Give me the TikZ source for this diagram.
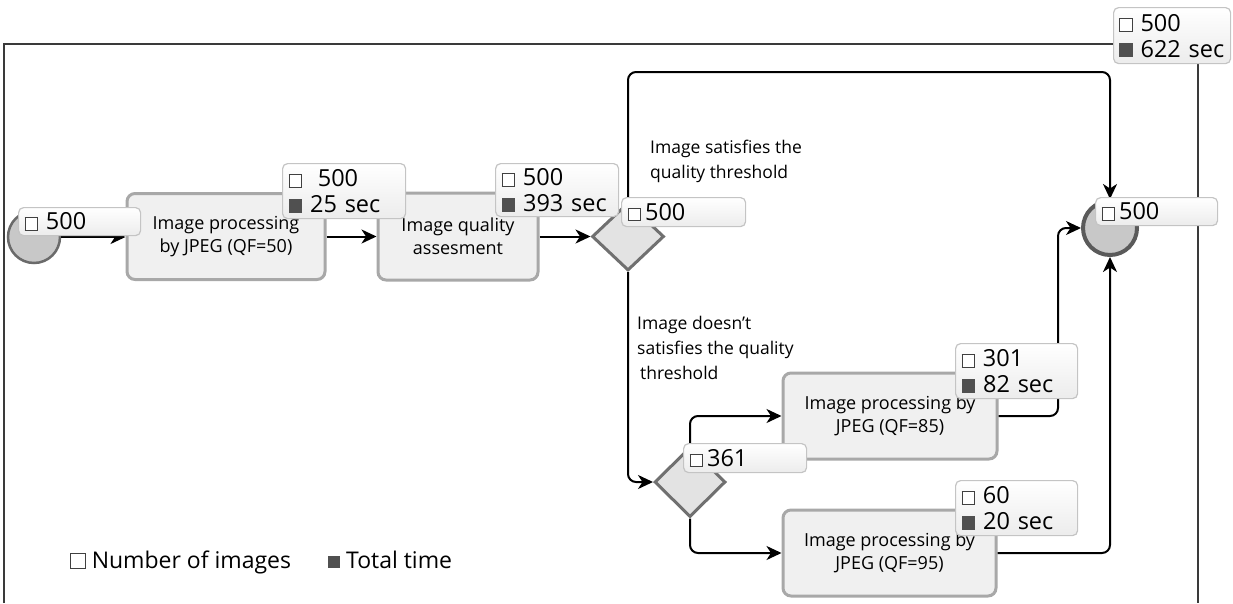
\documentclass[tikz,border=0pt]{standalone}
\usepackage{fontspec}
\setmainfont{Open Sans}
\usetikzlibrary{arrows.meta,shapes.geometric}
\definecolor{boxfill}{HTML}{F0F0F0}
\definecolor{boxline}{HTML}{A8A8A8}
\definecolor{diafill}{HTML}{E3E3E3}
\definecolor{dialine}{HTML}{707070}
\definecolor{circfill}{HTML}{C8C8C8}
\definecolor{circline}{HTML}{6A6A6A}
\definecolor{lblline}{HTML}{C4C4C4}
\definecolor{lblbot}{HTML}{ECECEC}
\definecolor{sqline}{HTML}{404040}
\definecolor{sqfill}{HTML}{505050}
\definecolor{framecol}{HTML}{3A3A3A}
\newcommand\wsq[1][0.5em]{{\setlength\fboxsep{0pt}\setlength\fboxrule{0.9pt}\textcolor{sqline}{\fbox{\textcolor{white}{\rule{#1}{#1}}}}}}
\newcommand\bsq[1][0.58em]{\textcolor{sqfill}{\rule{#1}{#1}}}
\tikzset{
 conn/.style={line width=2pt, draw=black, rounded corners=8pt},
 arr/.style={conn, -{Stealth[length=15pt,width=14pt,inset=4.5pt]}},
 proc/.style={draw=boxline, fill=boxfill, line width=3pt, rounded corners=8pt, align=center, font=\fontsize{18}{23}\selectfont, inner sep=0pt},
 gate/.style={diamond, draw=dialine, fill=diafill, line width=3pt, inner sep=0pt},
 ev/.style={circle, draw=circline, fill=circfill, inner sep=0pt},
 cnt/.style={draw=lblline, line width=1.2pt, rounded corners=5pt, top color=white, bottom color=lblbot, anchor=north west, align=left, inner xsep=6pt, inner ysep=0pt, font=\fontsize{23.5}{26}\selectfont},
 note/.style={align=left, anchor=west, inner sep=0pt, font=\fontsize{17.5}{25}\selectfont},
 legend/.style={anchor=base west, inner sep=0pt, font=\fontsize{23}{26}\selectfont},
 framel/.style={draw=framecol, line width=2.5pt},
}
\begin{document}
\begin{tikzpicture}[x=1pt,y=-1pt]
\useasboundingbox (0,0) rectangle (1233,603);
% frame
\draw[framel] (4,603) -- (4,44) -- (1198,44) -- (1198,603);
% nodes
\node[ev, minimum size=52pt, line width=2.5pt] (start) at (34,237) {};
\node[proc, minimum width=198pt, minimum height=86pt] (box1) at (226,236.5) {Image processing\\by JPEG (QF=50)};
\node[proc, minimum width=160pt, minimum height=87pt] (box2) at (458,236.5) {Image quality\\assesment};
\node[gate, minimum width=72pt, minimum height=68pt] (d1) at (628,236.5) {};
\node[ev, minimum size=54pt, line width=4pt, draw=circline!85!black] (end) at (1110,228) {};
\node[gate, minimum width=71pt, minimum height=70pt] (d2) at (690,482) {};
\node[proc, minimum width=214pt, minimum height=86pt] (box3) at (890,416) {Image processing by\\JPEG (QF=85)};
\node[proc, minimum width=213pt, minimum height=86pt] (box4) at (889.5,553) {Image processing by\\JPEG (QF=95)};
% connectors
\draw[arr] (start.east) -- (start.east -| box1.west);
\draw[arr] (box1.east) -- (box1.east -| box2.west);
\draw[arr] (box2.east) -- (d1.west);
\draw[arr] (d1.north) -- (628,72) -- (1110,72) -- (end.north);
\draw[arr] (d1.south) |- (d2.west);
\draw[arr] (d2.north) |- (box3.west);
\draw[arr] (d2.south) |- (box4.west);
\draw[arr] (box3.east) -- (1058,416) |- (end.west);
\draw[arr] (box4.east) -| (end.south);
% edge notes
\node[note] (n1) at (650,161) {Image satisfies the\\quality threshold};
\node[note] (n2) at (637,348) {Image doesn't\\satisfies the quality\\\,threshold};
% count labels
\node[cnt, text width=110pt, minimum height=28pt] (l0) at (18,207) {\wsq\ 500};
\node[cnt, text width=111pt, minimum height=55pt] (l1) at (282,163) {\wsq\ \ 500\\\bsq\ 25 sec};
\node[cnt, text width=111pt, minimum height=53pt] (l2) at (495,163) {\wsq\ 500\\\bsq\ 393 sec};
\node[cnt, text width=112pt, minimum height=29pt] (ld1) at (621,197) {\wsq\,500};
\node[cnt, text width=110pt, minimum height=28pt] (lend) at (1095,197) {\wsq\,500};
\node[cnt, text width=110pt, minimum height=55pt] (l3) at (955,343) {\wsq\ 301\\\bsq\ 82 sec};
\node[cnt, text width=111pt, minimum height=29pt] (ld2) at (683,443) {\wsq\,361};
\node[cnt, text width=110pt, minimum height=55pt] (l4) at (955,480) {\wsq\ 60\\\bsq\ 20 sec};
\node[cnt, text width=112pt, inner xsep=2.5pt, minimum height=56pt] (ltop) at (1113,7) {\hspace*{3pt}\mbox{\wsq\ 500}\\\hspace*{3pt}\mbox{\bsq\ 622 sec}};
% legend
\node[legend] (lg1) at (70,568) {\wsq[0.6em]\ Number of images};
\node[legend] (lg2) at (328,568) {\bsq[0.52em]\ Total time};
\end{tikzpicture}
\end{document}
